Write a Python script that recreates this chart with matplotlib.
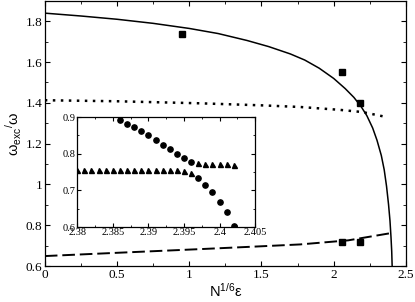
import matplotlib

matplotlib.use('Agg')
import matplotlib.pyplot as plt
from matplotlib.ticker import MultipleLocator

# main panel curves
solid_x = [0.0, 0.25, 0.5, 0.75, 1.0, 1.2, 1.4, 1.55, 1.7, 1.8, 1.9, 2.0, 2.08, 2.14,
           2.19, 2.23, 2.27, 2.30, 2.33, 2.35, 2.366, 2.38, 2.39, 2.397, 2.402, 2.405]
solid_y = [1.840, 1.826, 1.810, 1.790, 1.765, 1.740, 1.706, 1.676, 1.640, 1.610, 1.570, 1.520,
           1.470, 1.427, 1.382, 1.337, 1.277, 1.217, 1.142, 1.072, 0.992, 0.902, 0.822,
           0.742, 0.672, 0.600]

dot_x = [0.0, 0.5, 1.073, 1.5, 1.766, 2.04, 2.20, 2.37]
dot_y = [1.413, 1.408, 1.398, 1.388, 1.38, 1.366, 1.355, 1.33]

dash_x = [0.0, 0.5, 1.073, 1.5, 1.766, 2.1, 2.40]
dash_y = [0.649, 0.665, 0.683, 0.697, 0.706, 0.726, 0.762]

sq_x = [0.951, 2.061, 2.18, 2.061, 2.18]
sq_y = [1.74, 1.551, 1.401, 0.718, 0.720]

# inset data
circ_x = [2.386 + 0.001 * i for i in range(17)]
circ_y = [0.893, 0.882, 0.872, 0.861, 0.850, 0.838, 0.825, 0.812, 0.800, 0.788, 0.777,
          0.733, 0.715, 0.695, 0.669, 0.640, 0.603]
tri_x = [2.380 + 0.001 * i for i in range(23)]
tri_y = [0.757] * 15 + [0.753, 0.748, 0.775, 0.773, 0.772, 0.772, 0.771, 0.770]

serif = ['Liberation Serif', 'DejaVu Serif']
sans = ['Liberation Sans', 'DejaVu Sans']
plt.rcParams['font.family'] = serif
plt.rcParams['mathtext.fontset'] = 'custom'
plt.rcParams['mathtext.rm'] = 'Liberation Sans'
plt.rcParams['mathtext.it'] = 'Liberation Sans'

fig = plt.figure(figsize=(4.15, 3.02), dpi=100)
ax = fig.add_axes([0.108, 0.119, 0.870, 0.878])

ax.plot(solid_x, solid_y, color='black', lw=1.1)
ax.plot(dot_x, dot_y, color='black', lw=1.8, linestyle=(0, (1, 2.2)))
ax.plot(dash_x, dash_y, color='black', lw=1.4, linestyle=(0, (6.5, 2.5)))
ax.plot(sq_x, sq_y, 's', color='black', markersize=3.8)

ax.set_xlim(0, 2.5)
ax.set_ylim(0.6, 1.9)
ax.xaxis.set_minor_locator(MultipleLocator(0.25))
ax.yaxis.set_minor_locator(MultipleLocator(0.1))
ax.set_xticks([0, 0.5, 1, 1.5, 2, 2.5])
ax.set_xticklabels(['0', '0.5', '1', '1.5', '2', '2.5'], fontfamily=serif)
ax.set_yticks([0.6, 0.8, 1.0, 1.2, 1.4, 1.6, 1.8])
ax.set_yticklabels(['0.6', '0.8', '1', '1.2', '1.4', '1.6', '1.8'], fontfamily=serif)
ax.tick_params(which='both', direction='in', top=True, right=True, labelsize=9.5, pad=2)
ax.tick_params(which='major', length=3.6)
ax.tick_params(which='minor', length=2)
for s in ax.spines.values():
    s.set_linewidth(0.9)

ax.set_xlabel(r'N$^{1/6}$ε', family=sans, fontsize=10.5, labelpad=1)
ax.set_ylabel(r'ω$_{\mathrm{exc}}$$^{/}$ω', family=sans, fontsize=10.5, labelpad=1)

# inset
ins = fig.add_axes([0.186, 0.248, 0.429, 0.364])
ins.plot(circ_x, circ_y, 'o', color='black', markersize=3.8)
ins.plot(tri_x, tri_y, '^', color='black', markersize=3.6)
ins.set_xlim(2.38, 2.405)
ins.set_ylim(0.6, 0.9)
ins.set_xticks([2.38, 2.385, 2.39, 2.395, 2.4, 2.405])
ins.set_xticklabels(['2.38', '2.385', '2.39', '2.395', '2.4', '2.405'], fontfamily=serif)
ins.set_yticks([0.6, 0.7, 0.8, 0.9])
ins.set_yticklabels(['0.6', '0.7', '0.8', '0.9'], fontfamily=serif)
ins.xaxis.set_minor_locator(MultipleLocator(0.0025))
ins.yaxis.set_minor_locator(MultipleLocator(0.05))
ins.tick_params(which='both', direction='in', top=True, right=True, labelsize=7.5, pad=1)
ins.tick_params(which='major', length=3)
ins.tick_params(which='minor', length=1.6)
for s in ins.spines.values():
    s.set_linewidth(0.9)

fig.savefig('out.png', dpi=100)
plt.close(fig)
